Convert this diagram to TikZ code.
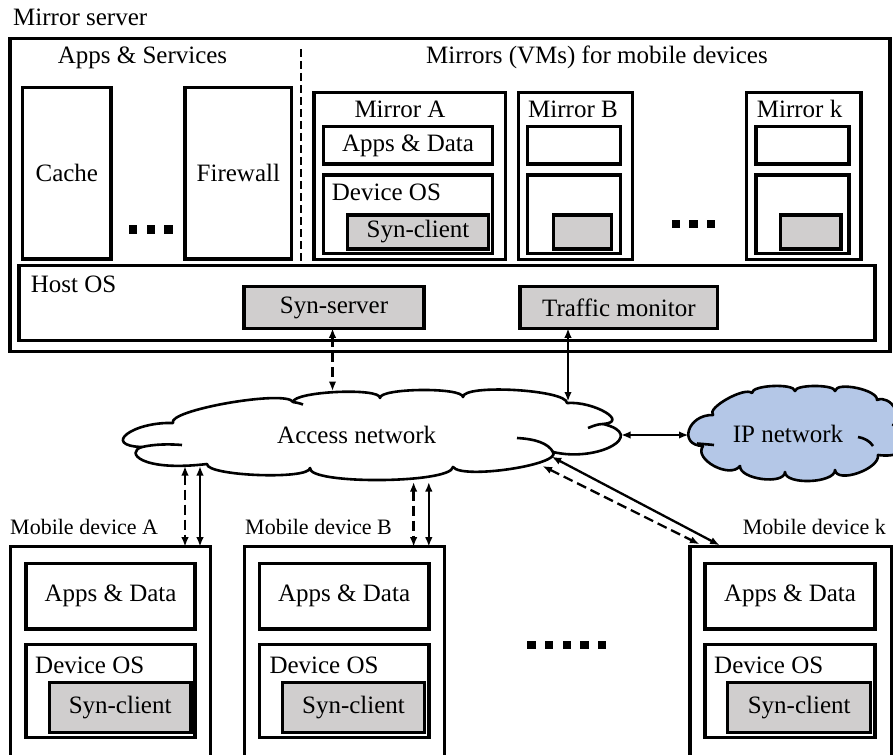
\documentclass[tikz,border=0pt]{standalone}
\usepackage{fontspec}
\setmainfont{Liberation Serif}
\usetikzlibrary{arrows.meta,calc}
\definecolor{boxgray}{RGB}{208,206,206}
\definecolor{ipblue}{RGB}{180,199,231}
\begin{document}
\begin{tikzpicture}[x=1pt, y=-1pt, font=\fontsize{25}{30}\selectfont,
  box/.style={draw, line width=3.4pt, anchor=north west, inner sep=0pt, outer sep=0pt},
  gbox/.style={box, fill=boxgray},
  lbl/.style={anchor=base west, inner sep=0pt},
  ctr/.style={anchor=base, inner sep=0pt},
  devlbl/.style={inner sep=0pt, font=\fontsize{22}{26}\selectfont},
  cloudline/.style={line width=2.6pt, line join=round},
  link/.style={line width=2.3pt, {Latex[length=9.5pt,width=7.5pt]}-{Latex[length=9.5pt,width=7.5pt]}},
  dlink/.style={link, dash pattern=on 10pt off 5pt},
  sepline/.style={line width=2.6pt, dash pattern=on 8pt off 4pt}]
\useasboundingbox (0,0) rectangle (893,754);
\clip (0,0) rectangle (893,754);

% ---------------- mirror server ----------------
\node[lbl] (srvlbl) at (13,26) {Mirror server};
\node[box, minimum width=880pt, minimum height=313.4pt] (srv) at (10,38.3) {};
\node[ctr] (appsvc) at (142.5,64) {Apps \& Services};
\node[ctr] (mirrors) at (597,64) {Mirrors (VMs) for mobile devices};
\coordinate (sepT) at (301,49);
\coordinate (sepB) at (301,262);
\draw[sepline] (sepT) -- (sepB);

\node[box, minimum width=88.3pt, minimum height=171.7pt] (cache) at (22.7,87.3) {Cache};
\node[box, minimum width=106.7pt, minimum height=171.7pt] (fw) at (185,87.3) {Firewall};
\foreach \x in {129,146.7,164.3} \fill (\x,225) rectangle ++(8.3,8.7);

% mirror A
\node[box, minimum width=191.7pt, minimum height=167pt] (mA) at (314,92.3) {};
\node[lbl] at (354.3,117.3) {Mirror A};
\node[box, minimum width=169.4pt, minimum height=37.3pt] (mAapps) at (323.3,126.7) {Apps \& Data};
\node[box, minimum width=169.4pt, minimum height=78.3pt] (mAos) at (323.3,175) {};
\node[lbl] at (331.7,200) {Device OS};
\node[gbox, minimum width=140.6pt, minimum height=34pt] (mAsyn) at (347.7,215) {Syn-client};

% mirror B
\node[box, minimum width=114.4pt, minimum height=167pt] (mB) at (518.3,92.3) {};
\node[lbl] at (528,117.3) {Mirror B};
\node[box, minimum width=92.6pt, minimum height=37.3pt] (mBapps) at (527.7,126.7) {};
\node[box, minimum width=92.6pt, minimum height=78.3pt] (mBos) at (527.7,175) {};
\node[gbox, minimum width=58.4pt, minimum height=34pt] (mBsyn) at (553.3,215) {};

\foreach \x in {671.7,689.3,707} \fill (\x,219.5) rectangle ++(8.3,8.7);

% mirror k
\node[box, minimum width=114.3pt, minimum height=167pt] (mK) at (746.7,92.3) {};
\node[lbl] at (756.7,117.3) {Mirror k};
\node[box, minimum width=93pt, minimum height=37.3pt] (mKapps) at (756,126.7) {};
\node[box, minimum width=93pt, minimum height=78.3pt] (mKos) at (756,175) {};
\node[gbox, minimum width=60.3pt, minimum height=34pt] (mKsyn) at (780.7,215) {};

% host OS
\node[box, minimum width=856pt, minimum height=75pt] (host) at (19,265.7) {};
\node[lbl] at (30.7,292.7) {Host OS};
\node[gbox, minimum width=180pt, minimum height=41.6pt] (syns) at (244,286.7) {Syn-server};
\node[gbox, minimum width=197.7pt, minimum height=41.6pt] (tmon) at (520,286.7) {Traffic monitor};

% ---------------- access network cloud ----------------
\draw[cloudline, fill=white] (142,447)
  .. controls (101.3,445.7) and (132.3,421.7) .. (173,423)
  .. controls (166.3,410.3) and (286.3,389.3) .. (293,402)
  .. controls (293.7,391.3) and (380.7,387.3) .. (380,398)
  .. controls (379.3,388) and (462.3,387) .. (463,397)
  .. controls (463,383.7) and (567,389.7) .. (567,403)
  .. controls (593.7,401) and (629.7,422) .. (603,424)
  .. controls (648.3,434.7) and (598.3,462.7) .. (553,452)
  .. controls (562.3,464.7) and (462.3,479.7) .. (453,467)
  .. controls (451,483.7) and (308,484.7) .. (310,468)
  .. controls (309.3,480) and (206.3,476) .. (207,464)
  .. controls (140,472) and (125,452) .. (142,447) -- cycle;
\draw[cloudline] (142,447) .. controls (155,444) and (170,444) .. (182,445);
\draw[cloudline] (588,428) .. controls (593,426) and (598,424) .. (603,424);
\draw[cloudline] (517,438) .. controls (535,439) and (548,443) .. (553,452);
\draw[cloudline] (293,402) .. controls (296,402.5) and (299,403) .. (303,404.5);
\node (an) at (356.7,435) {Access network};

% ---------------- IP network cloud ----------------
\draw[cloudline, fill=ipblue] (703,446)
  .. controls (677.7,445.3) and (687.7,414.3) .. (713,415)
  .. controls (705.7,408.3) and (744.7,386.3) .. (752,393)
  .. controls (751.3,385) and (794.3,383) .. (795,391)
  .. controls (795,384.3) and (835,384.3) .. (835,391)
  .. controls (836.3,381) and (878.3,390) .. (877,400)
  .. controls (890.3,394) and (906.3,419) .. (893,425)
  .. controls (925,428) and (915,460) .. (878,455)
  .. controls (880,469) and (837,484) .. (835,470)
  .. controls (835,483.3) and (785,485.3) .. (785,472)
  .. controls (784.3,485.3) and (739.3,479.3) .. (740,466)
  .. controls (730,479.3) and (693,459.3) .. (703,446) -- cycle;
\draw[cloudline] (697,443.5) .. controls (703,444) and (709,444.5) .. (714,445);
\draw[cloudline] (858,437) .. controls (864,438) and (870,441) .. (873,446);
\node (ip) at (788,434) {IP network};

% ---------------- mobile devices ----------------
\node[devlbl, anchor=base west] at (10,534) {Mobile device A};
\node[box, minimum width=200pt, minimum height=215pt] (devA) at (10.7,546.7) {};
\node[box, minimum width=169pt, minimum height=65.7pt] (devAapps) at (26,563.3) {Apps \& Data};
\node[box, minimum width=169pt, minimum height=93pt] (devAos) at (26,644.3) {};
\node[lbl] at (35,673.3) {Device OS};
\node[gbox, minimum width=141.7pt, minimum height=50pt] (devAsyn) at (49.3,682.7) {Syn-client};

\node[devlbl, anchor=base west] at (245,534) {Mobile device B};
\node[box, minimum width=200pt, minimum height=215pt] (devB) at (244.3,546.7) {};
\node[box, minimum width=169.7pt, minimum height=65.7pt] (devBapps) at (259.3,563.3) {Apps \& Data};
\node[box, minimum width=169.7pt, minimum height=93pt] (devBos) at (259.3,644.3) {};
\node[lbl] at (269.3,673.3) {Device OS};
\node[gbox, minimum width=141.6pt, minimum height=50pt] (devBsyn) at (282.7,682.7) {Syn-client};

\foreach \x in {527.3,545,562.7,580.3,598} \fill (\x,640.7) rectangle ++(8.3,8.3);

\node[devlbl, anchor=base east] at (886,534) {Mobile device k};
\node[box, minimum width=201.7pt, minimum height=215pt] (devK) at (690,546.7) {};
\node[box, minimum width=170pt, minimum height=65.7pt] (devKapps) at (705,563.3) {Apps \& Data};
\node[box, minimum width=170pt, minimum height=93pt] (devKos) at (705,644.3) {};
\node[lbl] at (714,673.3) {Device OS};
\node[gbox, minimum width=143pt, minimum height=50pt] (devKsyn) at (727.7,682.7) {Syn-client};

% ---------------- connectors ----------------
\coordinate (anTop1) at (332.5,391);
\coordinate (anTop2) at (568,401.5);
\coordinate (anR) at (621,435);
\coordinate (ipL) at (688.5,435);
\coordinate (anA1) at (185,466);
\coordinate (anA2) at (200,466);
\coordinate (anB1) at (413.6,482);
\coordinate (anB2) at (428.8,482);
\coordinate (anK1) at (542.6,466);
\coordinate (anK2) at (551.7,456.7);

\draw[dlink] (syns.south -| anTop1) -- (anTop1);
\draw[link] (tmon.south -| anTop2) -- (anTop2);
\draw[link] (anR) -- (ipL);
\draw[dlink] (anA1) -- (anA1 |- devA.north);
\draw[link] (anA2) -- (anA2 |- devA.north);
\draw[dlink] (anB1) -- (anB1 |- devB.north);
\draw[link] (anB2) -- (anB2 |- devB.north);
\draw[dlink] (anK1) -- ($(devK.north west)+(9.4,-2.5)$);
\draw[link] (anK2) -- ($(devK.north west)+(29.6,-1.5)$);
\end{tikzpicture}
\end{document}
